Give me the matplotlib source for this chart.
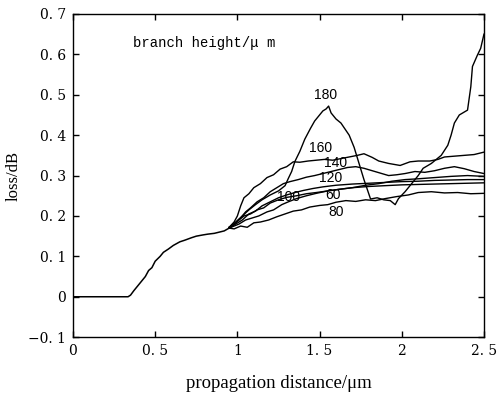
import numpy as np
import matplotlib.pyplot as plt

# shared part of all curves (before branching)
x_trunk = [0, 0.10, 0.20, 0.30, 0.335, 0.35, 0.37, 0.39, 0.42, 0.44, 0.46, 0.48, 0.50, 0.53, 0.55,
           0.58, 0.61, 0.65, 0.68, 0.72, 0.75, 0.79, 0.82, 0.86, 0.89, 0.92, 0.95]
y_trunk = [0, 0, 0, 0, 0, 0.004, 0.015, 0.025, 0.04, 0.05, 0.065, 0.072, 0.088, 0.10, 0.11,
           0.118, 0.127, 0.136, 0.140, 0.146, 0.150, 0.153, 0.155, 0.157, 0.16, 0.163, 0.17]

heights = ["60", "80", "100", "120", "140", "160", "180"]

x_60 = [0.95, 0.98, 1.01, 1.05, 1.09, 1.13, 1.18, 1.22, 1.27, 1.31, 1.36, 1.42, 1.48, 1.55, 1.62,
        1.70, 1.80, 1.90, 2.00, 2.10, 2.20, 2.30, 2.40, 2.50]
y_60 = [0.17, 0.175, 0.18, 0.19, 0.195, 0.20, 0.21, 0.215, 0.228, 0.235, 0.243, 0.25, 0.256, 0.262,
        0.266, 0.27, 0.273, 0.275, 0.277, 0.278, 0.279, 0.28, 0.281, 0.282]

x_80 = [0.95, 0.98, 1.02, 1.06, 1.10, 1.14, 1.19, 1.24, 1.29, 1.34, 1.39, 1.44, 1.50, 1.55, 1.60,
        1.66, 1.72, 1.78, 1.84, 1.90, 1.97, 2.04, 2.10, 2.18, 2.26, 2.34, 2.42, 2.50]
y_80 = [0.17, 0.168, 0.175, 0.172, 0.183, 0.185, 0.19, 0.198, 0.205, 0.212, 0.215, 0.222, 0.226, 0.228,
        0.234, 0.238, 0.236, 0.24, 0.238, 0.243, 0.248, 0.252, 0.258, 0.26, 0.257, 0.258, 0.255, 0.256]

x_100 = [0.95, 0.98, 1.01, 1.04, 1.08, 1.12, 1.16, 1.20, 1.25, 1.30, 1.36, 1.42, 1.48, 1.55, 1.62,
         1.70, 1.78, 1.86, 1.94, 2.02, 2.10, 2.20, 2.30, 2.40, 2.50]
y_100 = [0.172, 0.18, 0.19, 0.2, 0.205, 0.215, 0.22, 0.232, 0.24, 0.246, 0.25, 0.255, 0.258, 0.262,
         0.266, 0.27, 0.276, 0.28, 0.286, 0.29, 0.292, 0.295, 0.298, 0.30, 0.298]

x_120 = [0.95, 0.99, 1.03, 1.07, 1.11, 1.15, 1.20, 1.25, 1.30, 1.35, 1.40, 1.46, 1.52, 1.60, 1.70,
         1.80, 1.90, 2.00, 2.10, 2.20, 2.30, 2.40, 2.50]
y_120 = [0.17, 0.18, 0.19, 0.205, 0.212, 0.225, 0.235, 0.245, 0.252, 0.258, 0.263, 0.268, 0.272,
         0.276, 0.279, 0.281, 0.283, 0.285, 0.286, 0.288, 0.289, 0.29, 0.29]

x_140 = [0.95, 0.98, 1.02, 1.05, 1.08, 1.12, 1.16, 1.20, 1.24, 1.28, 1.32, 1.37, 1.42, 1.47, 1.52,
         1.57, 1.62, 1.67, 1.72, 1.77, 1.82, 1.87, 1.92, 1.97, 2.02, 2.08, 2.14, 2.20, 2.26, 2.32,
         2.38, 2.44, 2.50]
y_140 = [0.172, 0.18, 0.195, 0.21, 0.22, 0.235, 0.245, 0.26, 0.27, 0.28, 0.285, 0.29, 0.296, 0.30,
         0.305, 0.31, 0.315, 0.32, 0.322, 0.318, 0.312, 0.306, 0.30, 0.302, 0.305, 0.31, 0.308,
         0.312, 0.318, 0.322, 0.317, 0.31, 0.305]

x_160 = [0.95, 0.98, 1.00, 1.02, 1.04, 1.07, 1.10, 1.14, 1.18, 1.22, 1.26, 1.30, 1.34, 1.38, 1.43,
         1.48, 1.53, 1.58, 1.63, 1.68, 1.73, 1.77, 1.82, 1.86, 1.92, 1.99, 2.05, 2.10, 2.17, 2.22,
         2.26, 2.32, 2.38, 2.44, 2.50]
y_160 = [0.172, 0.185, 0.2, 0.225, 0.245, 0.255, 0.27, 0.28, 0.295, 0.302, 0.316, 0.322, 0.334, 0.333,
         0.336, 0.338, 0.34, 0.338, 0.342, 0.346, 0.35, 0.354, 0.345, 0.336, 0.33, 0.325, 0.334,
         0.336, 0.336, 0.34, 0.346, 0.348, 0.35, 0.352, 0.358]

x_180 = [0.95, 0.99, 1.03, 1.07, 1.11, 1.15, 1.20, 1.25, 1.29, 1.31, 1.33, 1.35, 1.38, 1.41, 1.445,
         1.47, 1.50, 1.52, 1.54, 1.555, 1.57, 1.60, 1.63, 1.655, 1.68, 1.71, 1.74, 1.77, 1.81,
         1.85, 1.89, 1.93, 1.96, 1.98, 2.02, 2.05, 2.10, 2.13, 2.18, 2.24, 2.28, 2.30, 2.32, 2.35,
         2.40, 2.42, 2.43, 2.46, 2.48, 2.50]
y_180 = [0.17, 0.185, 0.2, 0.215, 0.228, 0.24, 0.252, 0.262, 0.275, 0.293, 0.31, 0.335, 0.36, 0.39,
         0.417, 0.435, 0.45, 0.46, 0.465, 0.472, 0.455, 0.44, 0.43, 0.415, 0.40, 0.37, 0.33,
         0.29, 0.242, 0.245, 0.24, 0.238, 0.228, 0.243, 0.26, 0.275, 0.30, 0.318, 0.33, 0.35,
         0.375, 0.40, 0.43, 0.45, 0.462, 0.52, 0.57, 0.598, 0.615, 0.65]

label_x = [1.58, 1.60, 1.31, 1.565, 1.60, 1.505, 1.535]
label_y = [0.253, 0.211, 0.248, 0.295, 0.330, 0.367, 0.499]

xs = [x_60, x_80, x_100, x_120, x_140, x_160, x_180]
ys = [y_60, y_80, y_100, y_120, y_140, y_160, y_180]

fig = plt.figure(figsize=(5.01, 3.99), dpi=100)
ax = fig.add_axes([0.1457, 0.155, 0.8203, 0.81])

ax.plot(x_trunk, y_trunk, color="black", lw=1.1)
for x, y in zip(xs, ys):
    ax.plot(x, y, color="black", lw=1.0)

for h, lx, ly in zip(heights, label_x, label_y):
    ax.text(lx, ly, h, ha="center", va="center", fontsize=10, family="Liberation Sans")

ax.text(0.366, 0.628, "branch height/\u03bc m", ha="left", va="center",
        fontsize=10, family="Liberation Mono")

ax.set_xlim(0, 2.5)
ax.set_ylim(-0.1, 0.7)
xt = [0, 0.5, 1, 1.5, 2, 2.5]
yt = [-0.1, 0, 0.1, 0.2, 0.3, 0.4, 0.5, 0.6, 0.7]
ax.set_xticks(xt)
ax.set_xticklabels(["0", "0. 5", "1", "1. 5", "2", "2. 5"], family="DejaVu Serif", fontsize=10)
ax.set_yticks(yt)
ax.set_yticklabels(["\u22120. 1", "0", "0. 1", "0. 2", "0. 3", "0. 4", "0. 5", "0. 6", "0. 7"],
                   family="DejaVu Serif", fontsize=10)
ax.tick_params(direction="in", length=4, width=1, top=True, right=True, pad=5)
for s in ax.spines.values():
    s.set_linewidth(1)

ax.set_xlabel("propagation distance/\u03bcm", family="Liberation Serif", fontsize=13.5, labelpad=12)
ax.set_ylabel("loss/dB", family="Liberation Serif", fontsize=12, labelpad=5)

fig.savefig("out.png", dpi=100)
